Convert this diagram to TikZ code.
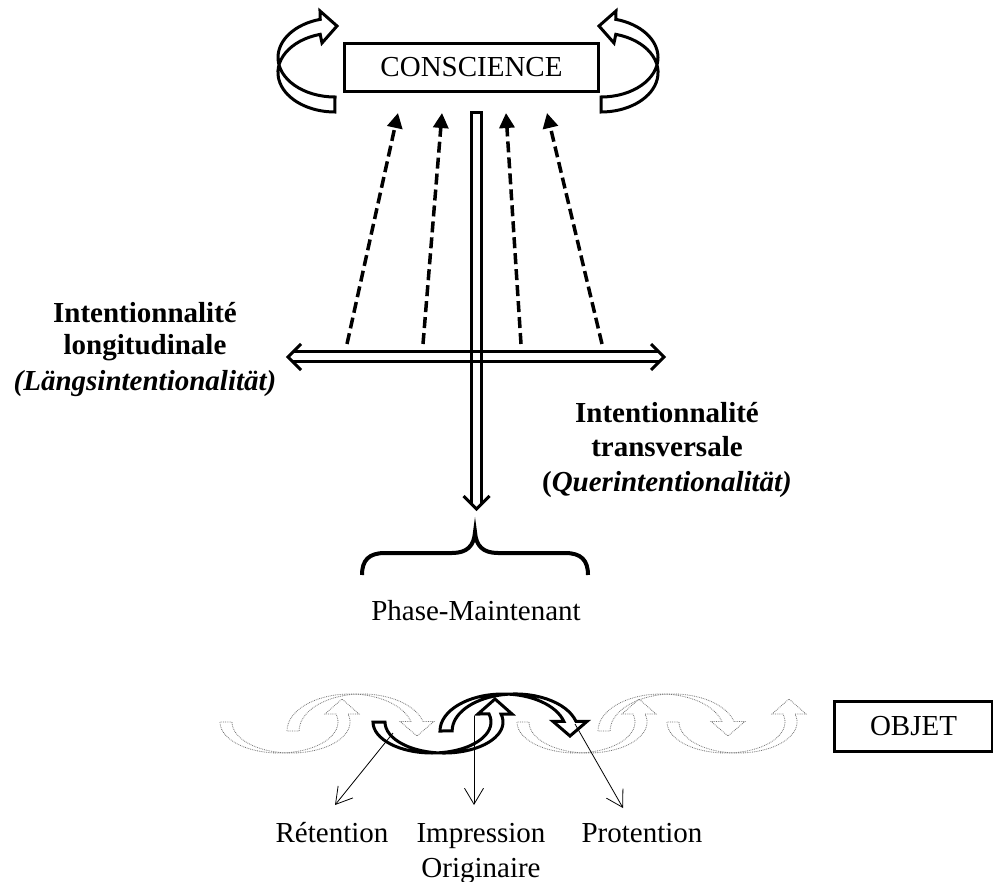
\documentclass[tikz,border=0pt]{standalone}
\usepackage{fontspec}
\setmainfont{Liberation Serif}
\usetikzlibrary{arrows.meta}
\newcommand\curvU[3]{% cx, cy, style : U-shaped curved arrow, head up at right
  \draw[#3] ({#1-59},#2) arc[start angle=180,end angle=-15,x radius=59,y radius=31]
    -- ({#1+46},{#2-8}) -- ({#1+63},{#2-23}) -- ({#1+80},{#2-8}) -- ({#1+69},{#2-8})
    arc[start angle=-15,end angle=180,x radius=59,y radius=31] -- cycle;}
\newcommand\curvD[3]{% cx, cy, style : n-shaped curved arrow, head down at right
  \draw[#3] ({#1-63},#2) arc[start angle=180,end angle=345,x radius=63,y radius=37]
    -- ({#1+50},{#2-9.6}) -- ({#1+67},{#2+5}) -- ({#1+84},{#2-9.6}) -- ({#1+73},{#2-9.6})
    arc[start angle=345,end angle=180,x radius=63,y radius=37] -- cycle;}
\begin{document}
\begin{tikzpicture}[x=1pt,y=-1pt,
  txt/.style={font=\fontsize{29}{34}\selectfont, inner sep=0pt, anchor=base},
  lbl/.style={font=\fontsize{29}{34}\selectfont\bfseries, inner sep=0pt, anchor=base},
  boxn/.style={draw, line width=3pt, inner sep=0pt, font=\fontsize{29}{34}\selectfont},
  bar/.style={line width=3pt, line join=miter},
  dasharrow/.style={line width=3.5pt, dash pattern=on 11pt off 5pt, -{Triangle[length=15pt,width=15pt]}},
  thinarrow/.style={line width=0.8pt, -{Straight Barb[length=16pt,width=19pt]}},
  boldarc/.style={line width=3pt, line join=miter},
  dotarc/.style={line width=0.8pt, densely dotted, draw=black!55},
  curl/.style={line width=3pt, line join=miter},
]
\useasboundingbox (0,0) rectangle (993,882);

% CONSCIENCE box
\node[boxn, minimum width=254pt, minimum height=48pt] (consc) at (471.5,67.5) {CONSCIENCE};

% curved arrows round the box
\draw[curl] (335,97) arc[start angle=90,end angle=255,x radius=57,y radius=39.5]
  -- (320,11) -- (337,26) -- (322,43) -- (320.2,34.35)
  arc[start angle=255,end angle=90,x radius=57,y radius=39.5] -- cycle;
\begin{scope}[shift={(936,0)}, xscale=-1]
\draw[curl] (335,97) arc[start angle=90,end angle=255,x radius=57,y radius=39.5]
  -- (320,11) -- (337,26) -- (322,43) -- (320.2,34.35)
  arc[start angle=255,end angle=90,x radius=57,y radius=39.5] -- cycle;
\end{scope}

% dashed arrows
\foreach \a/\b [count=\i] in {347/398, 423/442, 521/506, 602/547}{
  \coordinate (ds\i) at (\a,344);
  \coordinate (de\i) at (\b,113);
  \draw[dasharrow] (ds\i) -- (de\i);
}

% vertical double arrow
\draw[bar] (471.5,504) -- (471.5,112.5) -- (481.5,112.5) -- (481.5,504);
\draw[bar] (463.5,496) -- (476.5,509) -- (489.5,496);

% horizontal double arrow
\draw[bar] (293,352) -- (659,352);
\draw[bar] (293,362) -- (659,362);
\draw[bar] (301,344) -- (288,357) -- (301,370);
\draw[bar] (651,344) -- (664,357) -- (651,370);

% labels
\node[lbl] (lon1) at (145,323) {Intentionnalité};
\node[lbl] (lon2) at (145,355) {longitudinale};
\node[lbl] (lon3) at (145,390) {\itshape(Längsintentionalität)};
\node[lbl] (tra1) at (667,422) {Intentionnalité};
\node[lbl] (tra2) at (667,456) {transversale};
\node[lbl] (tra3) at (667,491) {({\itshape Querintentionalität)}};

% brace
\draw[line width=4pt] (362,575) .. controls (362,560) and (369,553) .. (385,553) -- (452,553)
  .. controls (467,553) and (474,546) .. (475,532)
  .. controls (476,546) and (483,553) .. (498,553) -- (565,553)
  .. controls (581,553) and (588,560) .. (588,575);
\node[txt] (phase) at (476,620) {Phase-Maintenant};

% chain of curved arrows
\curvU{279}{722}{dotarc}
\curvD{350}{731}{dotarc}
\curvU{576}{722}{dotarc}
\curvD{661}{731}{dotarc}
\curvU{726}{722}{dotarc}
\curvU{432}{722}{boldarc}
\curvD{503}{731}{boldarc}

% OBJET
\node[boxn, minimum width=158pt, minimum height=50pt] (obj) at (913.5,726) {OBJET};

% bottom labels
\node[txt] (ret) at (332,842) {Rétention};
\node[txt] (imp) at (481,842) {Impression};
\node[txt] (ori) at (481,877) {Originaire};
\node[txt] (pro) at (642,842) {Protention};
\coordinate (rs) at (393,733);
\coordinate (re) at (335,805);
\coordinate (is) at (474,716);
\coordinate (ie) at (474,805);
\coordinate (ps) at (575,724);
\coordinate (pe) at (623,808);
\draw[thinarrow] (rs) -- (re);
\draw[thinarrow] (is) -- (ie);
\draw[thinarrow] (ps) -- (pe);
\end{tikzpicture}
\end{document}
